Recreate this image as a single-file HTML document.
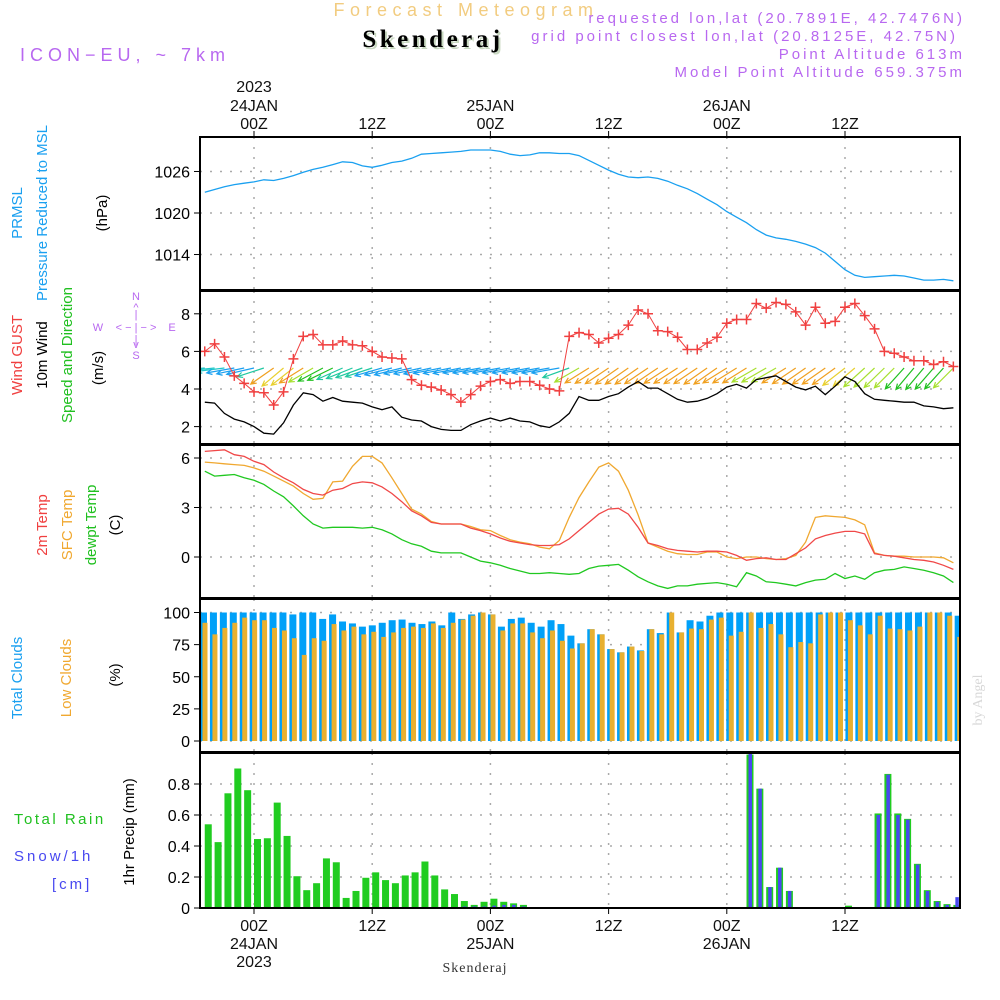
<!DOCTYPE html>
<html><head><meta charset="utf-8"><style>
html,body{margin:0;padding:0;background:#fff;}
svg{display:block;font-family:"Liberation Sans",sans-serif;}
</style></head><body>
<svg id="chart" width="1000" height="1000" viewBox="0 0 1000 1000" xmlns="http://www.w3.org/2000/svg">
<g>
<text x="466" y="16" font-size="18" letter-spacing="5.5" fill="#f2cc80" text-anchor="middle">Forecast Meteogram</text>
<text x="435" y="49" font-size="25" letter-spacing="3.5" font-weight="bold" font-family="Liberation Serif,serif" fill="#c8d8c0" text-anchor="middle">Skenderaj</text>
<text x="433" y="47" font-size="25" letter-spacing="3.5" font-weight="bold" font-family="Liberation Serif,serif" fill="#000" text-anchor="middle">Skenderaj</text>
<text x="20" y="61" font-size="18" letter-spacing="5" fill="#b868f0">ICON−EU, ~ 7km</text>
<g font-size="15" letter-spacing="3" fill="#b868f0" text-anchor="end">
<text x="965" y="23">requested lon,lat (20.7891E, 42.7476N)</text>
<text x="958" y="41">grid point closest lon,lat (20.8125E, 42.75N)</text>
<text x="965" y="59">Point Altitude 613m</text>
<text x="965" y="77">Model Point Altitude 659.375m</text>
</g>
</g>
<g id="labels" font-size="15">
<g>
<text transform="translate(22,213) rotate(-90)" fill="#1aa0f0" text-anchor="middle">PRMSL</text>
<text transform="translate(47,213) rotate(-90)" fill="#1aa0f0" text-anchor="middle">Pressure Reduced to MSL</text>
<text transform="translate(107,213) rotate(-90)" fill="#000" text-anchor="middle">(hPa)</text>
</g>
<g>
<text transform="translate(22,355) rotate(-90)" fill="#f04040" text-anchor="middle">Wind GUST</text>
<text transform="translate(47,355) rotate(-90)" fill="#000" text-anchor="middle">10m Wind</text>
<text transform="translate(72,355) rotate(-90)" fill="#20c020" text-anchor="middle">Speed and Direction</text>
<text transform="translate(103,368) rotate(-90)" fill="#000" text-anchor="middle">(m/s)</text>
<g fill="#b868f0" font-size="11" text-anchor="middle">
<text x="136" y="300">N</text><text x="136" y="311">^</text><text x="136" y="318">|</text>
<text x="98" y="331">W</text><text x="136" y="331">&lt; − | − &gt;</text><text x="172" y="331">E</text>
<text x="136" y="343">|</text><text x="136" y="348">v</text><text x="136" y="359">S</text>
</g>
</g>
<g>
<text transform="translate(47,525) rotate(-90)" fill="#f04040" text-anchor="middle">2m Temp</text>
<text transform="translate(72,525) rotate(-90)" fill="#f0a830" text-anchor="middle">SFC Temp</text>
<text transform="translate(96,525) rotate(-90)" fill="#20c020" text-anchor="middle">dewpt Temp</text>
<text transform="translate(120,525) rotate(-90)" fill="#000" text-anchor="middle">(C)</text>
</g>
<g>
<text transform="translate(22,678) rotate(-90)" fill="#1aa0f0" text-anchor="middle">Total Clouds</text>
<text transform="translate(71,678) rotate(-90)" fill="#f0a830" text-anchor="middle">Low Clouds</text>
<text transform="translate(120,675) rotate(-90)" fill="#000" text-anchor="middle">(%)</text>
</g>
<g>
<text x="14" y="824" fill="#20c020" letter-spacing="2.5">Total  Rain</text>
<text x="14" y="861" fill="#4848f0" letter-spacing="3">Snow/1h</text>
<text x="52" y="889" fill="#4848f0" letter-spacing="3">[cm]</text>
<text transform="translate(134,832) rotate(-90)" fill="#000" text-anchor="middle">1hr Precip (mm)</text>
</g>
<text transform="translate(982,700) rotate(-90)" fill="#d8d8d8" font-family="Liberation Serif,serif" font-size="14" text-anchor="middle">by Angel</text>
<text x="475" y="972" font-family="Liberation Serif,serif" font-size="14" letter-spacing="1" fill="#333" text-anchor="middle">Skenderaj</text>
</g>
<g id="plots"></g>
</svg>
<script>
const hours = [];
for (let h = -5; h <= 71; h++) hours.push(h);
const timeTicks = [0, 12, 24, 36, 48, 60];
const timeTickLabels = ["00Z","12Z","00Z","12Z","00Z","12Z"];
const dateTicks = [0, 24, 48];
const dateLabels = ["24JAN","25JAN","26JAN"];
const yearLabel = "2023";

const pressure = [1023.0,1023.4,1023.8,1024.1,1024.3,1024.5,1024.8,1024.7,1025.0,1025.4,1025.9,1026.3,1026.6,1027.0,1027.4,1027.3,1026.8,1026.6,1026.9,1027.3,1027.5,1027.9,1028.5,1028.6,1028.7,1028.8,1028.9,1029.1,1029.1,1029.1,1028.9,1028.5,1028.3,1028.4,1028.7,1028.7,1028.6,1028.6,1028.3,1027.6,1026.9,1026.2,1025.6,1025.2,1025.1,1025.2,1025.0,1024.6,1024.0,1023.5,1022.8,1022.0,1021.2,1020.2,1019.4,1018.6,1017.6,1016.8,1016.4,1016.2,1015.9,1015.5,1015.0,1014.2,1013.0,1011.8,1011.0,1010.7,1010.8,1010.9,1011.0,1010.9,1010.6,1010.3,1010.3,1010.4,1010.2];
const pressureTicks = [1014, 1020, 1026];

const gust = [6.0,6.4,5.7,4.7,4.3,3.85,3.8,3.15,3.85,5.6,6.8,6.9,6.35,6.35,6.55,6.35,6.3,6.0,5.7,5.65,5.6,4.5,4.2,4.1,3.95,3.7,3.3,3.7,4.15,4.4,4.5,4.3,4.4,4.4,4.2,4.0,3.9,6.8,7.0,6.9,6.45,6.7,6.9,7.4,8.2,8.0,7.1,7.05,6.75,6.1,6.1,6.45,6.75,7.5,7.7,7.7,8.55,8.3,8.6,8.5,8.1,7.4,8.35,7.5,7.6,8.35,8.55,7.9,7.2,6.0,5.9,5.7,5.5,5.5,5.3,5.45,5.2];
const wind = [3.3,3.25,2.7,2.4,2.25,2.0,1.65,1.6,2.2,3.15,3.8,3.7,3.35,3.55,3.35,3.3,3.25,3.05,2.9,3.05,2.5,2.35,2.3,2.0,1.85,1.8,1.8,2.1,2.3,2.45,2.3,2.45,2.3,2.25,2.05,1.95,2.25,2.7,3.6,3.4,3.4,3.6,3.75,4.1,4.4,4.05,4.05,3.75,3.45,3.3,3.35,3.5,3.75,4.1,4.25,4.05,4.5,4.6,4.7,4.4,4.1,3.95,4.15,3.7,4.15,4.65,4.4,3.75,3.45,3.4,3.35,3.3,3.3,3.1,3.05,2.95,3.0];
const windDir = [85,84,83,80,78,77,72,55,50,52,58,60,62,64,66,68,70,72,74,76,76,78,78,78,79,79,79,80,80,80,80,80,80,80,80,80,80,70,60,58,57,56,55,55,55,56,56,57,57,56,56,55,55,58,58,58,60,60,60,58,56,55,55,55,54,52,50,48,47,46,45,42,40,40,41,42,45];
const windTicks = [2, 4, 6, 8];

const temp2m = [6.4,6.45,6.5,6.2,6.1,5.8,5.6,5.15,4.8,4.5,4.1,3.85,3.75,4.05,4.15,4.45,4.55,4.5,4.25,3.85,3.35,2.8,2.5,2.1,2.0,2.0,2.0,1.75,1.6,1.4,1.15,0.95,0.85,0.75,0.7,0.7,0.75,1.1,1.6,2.1,2.6,2.9,2.95,2.6,1.8,0.85,0.7,0.5,0.4,0.35,0.3,0.35,0.35,0.3,0.1,-0.2,-0.1,-0.05,-0.15,-0.15,0.2,0.55,1.1,1.3,1.45,1.55,1.55,1.4,0.2,0.1,0.05,-0.05,-0.15,-0.2,-0.3,-0.5,-0.75];
const tempSfc = [5.75,5.7,5.65,5.6,5.55,5.4,5.2,4.9,4.6,4.3,3.85,3.5,3.55,4.55,4.6,5.5,6.1,6.1,5.7,4.8,3.85,2.9,2.6,2.15,2.0,2.0,2.0,1.85,1.65,1.6,1.3,1.05,0.9,0.8,0.6,0.5,1.0,2.4,3.6,4.55,5.45,5.7,5.2,4.05,2.55,0.85,0.6,0.35,0.2,0.15,0.15,0.3,0.3,0.0,-0.1,0.0,0.0,-0.1,-0.15,-0.1,0.1,0.9,2.4,2.5,2.45,2.4,2.25,1.95,0.25,0.1,0.05,0.05,0.0,0.0,0.0,-0.05,-0.35];
const dewpt = [5.2,4.9,4.95,5.0,4.8,4.65,4.4,4.0,3.65,3.1,2.5,2.0,1.75,1.8,1.8,1.8,1.75,1.8,1.65,1.4,1.05,0.8,0.65,0.35,0.25,0.25,0.25,0.0,-0.25,-0.35,-0.5,-0.7,-0.85,-1.0,-1.0,-0.95,-1.0,-1.05,-1.0,-0.7,-0.55,-0.5,-0.45,-0.8,-1.2,-1.5,-1.75,-1.9,-1.75,-1.75,-1.65,-1.6,-1.55,-1.65,-1.8,-0.95,-1.15,-1.5,-1.55,-1.65,-1.75,-1.55,-1.4,-1.35,-1.0,-1.3,-1.15,-1.35,-0.95,-0.8,-0.75,-0.6,-0.7,-0.8,-0.95,-1.15,-1.55];
const tempTicks = [0, 3, 6];

const totalClouds = [100,100,100,100,100,100,100,100,100,98.5,100,100,95,98.5,93,91.5,89,90,92,94,94.5,92,91,93,90,100,95,98.5,100,98.5,89,95,96,92,89,94,91,82,76,87,83,71.5,69,73.5,70.5,87,84,100,84.5,94,93,97.5,100,100,100,100,100,100,100,100,100,100,100,100,100,100,100,100,100,100,100,100,100,100,100,100,97.5];
const lowClouds = [92,83,88,92,96,94,94,88,86,80,67,80,78,91,86,89,83,85,81,84.5,88,89,88,91.5,88,92,94.5,97.5,100,98.5,86,91.5,91.5,84.5,80,86,78,72,76,87,83,71.5,69,73.5,70,87,83,100,84.5,87.5,87,94.5,96,82,85,100,88,91,83,73,77,76,98.5,100,100,94,90,83,97.5,87.5,87,86,89,100,100,97.5,81];
const cloudTicks = [0, 25, 50, 75, 100];

const rain = [0.54,0.425,0.74,0.9,0.76,0.445,0.45,0.68,0.465,0.205,0.115,0.16,0.32,0.295,0.065,0.11,0.195,0.23,0.18,0.16,0.21,0.23,0.30,0.21,0.12,0.09,0.045,0.02,0.04,0.06,0.04,0.03,0.02,0,0,0,0,0,0,0,0,0,0,0,0,0,0,0,0,0,0,0,0.005,0,0,0.99,0.77,0.135,0.26,0.11,0,0,0,0,0,0.015,0,0,0.61,0.865,0.61,0.575,0.285,0.115,0.045,0.025,0.02];
const snow = [0,0,0,0,0,0,0,0,0,0,0,0,0,0,0,0,0,0,0,0,0,0,0,0,0,0,0.01,0.01,0.01,0.015,0.02,0.02,0.01,0,0,0,0,0,0,0,0,0,0,0,0,0,0,0,0,0,0,0,0.005,0,0,1.0,0.77,0.135,0.26,0.11,0,0,0,0,0,0.005,0,0,0.6,0.86,0.6,0.57,0.28,0.11,0.04,0.02,0.07];
const precipTicks = [0, 0.2, 0.4, 0.6, 0.8];
const precipTickLabels = ["0","0.2","0.4","0.6","0.8"];

const X0 = 200, X1 = 960;
const xScale = h => 254 + 9.85 * h;
const xCloud = h => 200 + (h + 5) * 9.93;
const panels = [
  {name:"pressure-panel", y0:137, y1:290},
  {name:"wind-panel", y0:291, y1:444},
  {name:"temp-panel", y0:445, y1:598},
  {name:"cloud-panel", y0:599, y1:752},
  {name:"precip-panel", y0:753, y1:908}
];
const yPress = v => 213 - (v - 1020) * 6.92;
const yWind = v => 389 - (v - 4) * 18.8;
const yTemp = v => 557 - v * 16.5;
const yCloud = v => 741 - v * 1.285;
const yPrecip = v => 908 - v * 155;

const NS = "http://www.w3.org/2000/svg";
const root = document.getElementById("plots");
function mk(tag, attrs, parent) {
  const e = document.createElementNS(NS, tag);
  for (const k in attrs) e.setAttribute(k, attrs[k]);
  (parent || root).appendChild(e);
  return e;
}
function pathOf(vals, ys) {
  return vals.map((v, i) => (i ? "L" : "M") + xScale(hours[i]).toFixed(1) + "," + ys(v).toFixed(1)).join(" ");
}

panels.forEach((p, pi) => {
  const g = mk("g", {});
  
  
  mk("rect", {x: X0, y: p.y0, width: X1 - X0, height: p.y1 - p.y0, fill: "#fff"}, g);
  timeTicks.forEach(t => {
    const l = mk("line", {x1: xScale(t), x2: xScale(t), y1: p.y0, y2: p.y1, stroke: "#aaa", "stroke-width": 1.5, "stroke-dasharray": "2,8"}, g);
    
    
  });
  p.g = g;
});
function hgrid(pi, ticks, ys, labels) {
  const p = panels[pi];
  ticks.forEach((t, i) => {
    const y = ys(t);
    const l = mk("line", {x1: X0, x2: X1, y1: y, y2: y, stroke: "#aaa", "stroke-width": 1.5, "stroke-dasharray": "2,8"}, p.g);
    
    
    mk("line", {x1: X0 - 6, x2: X0, y1: y, y2: y, stroke: "#000", "stroke-width": 1}, p.g);
    const tx = mk("text", {x: X0 - 10, y: y + 6, "font-size": 16, "text-anchor": "end", fill: "#000"}, p.g);
    tx.textContent = labels ? labels[i] : String(t);
    
    
  });
}
hgrid(0, pressureTicks, yPress);
hgrid(1, windTicks, yWind);
hgrid(2, tempTicks, yTemp);
hgrid(3, cloudTicks, yCloud);
hgrid(4, precipTicks, yPrecip, precipTickLabels);

const defs = mk("defs", {});
panels.forEach((p, i) => {
  const cp = mk("clipPath", {id: "clip" + i}, defs);
  mk("rect", {x: X0, y: p.y0, width: X1 - X0, height: p.y1 - p.y0}, cp);
});

const pl = mk("path", {d: pathOf(pressure, yPress), fill: "none", stroke: "#1aa0f0", "stroke-width": 1.3, "clip-path": "url(#clip0)"}, panels[0].g);



const arrowColorFor = d => d >= 82 ? "#20c8c8" : d >= 74 ? "#1aa0f0" : d >= 66 ? "#20c8a0" : d >= 62 ? "#20c020" : d >= 59 ? "#a8e030" : d >= 54 ? "#f0a020" : d >= 49 ? "#e8d030" : d >= 44 ? "#a8e030" : "#20c020";
const ag = mk("g", {"clip-path": "url(#clip1)"}, panels[1].g);


windDir.forEach((d, i) => {
  const x = xScale(hours[i]), y = 368, L = 28;
  const r = d * Math.PI / 180;
  const dx = -Math.sin(r) * L, dy = Math.cos(r) * L;
  const hx = x + dx, hy = y + dy;
  const ang = Math.atan2(-dy, -dx);
  const hl = 6;
  const c = arrowColorFor(d);
  const a = mk("path", {d: `M${x},${y} L${hx},${hy} M${hx + hl * Math.cos(ang + 0.45)},${hy + hl * Math.sin(ang + 0.45)} L${hx},${hy} L${hx + hl * Math.cos(ang - 0.45)},${hy + hl * Math.sin(ang - 0.45)}`, fill: "none", stroke: c, "stroke-width": 1.2}, ag);
  
  
});
const wl = mk("path", {d: pathOf(wind, yWind), fill: "none", stroke: "#000", "stroke-width": 1.3, "clip-path": "url(#clip1)"}, panels[1].g);


const gl = mk("path", {d: pathOf(gust, yWind), fill: "none", stroke: "#f04040", "stroke-width": 1, "clip-path": "url(#clip1)"}, panels[1].g);


gust.forEach((v, i) => {
  const x = xScale(hours[i]), y = yWind(v);
  const m = mk("path", {d: `M${x - 5},${y} L${x + 5},${y} M${x},${y - 5} L${x},${y + 5}`, stroke: "#f04040", "stroke-width": 1.5}, panels[1].g);
  
  
});

[[dewpt, "#20c820", "dewpoint-line"], [tempSfc, "#f0a830", "sfc-temp-line"], [temp2m, "#f04848", "temp-2m-line"]].forEach(([arr, col, nm]) => {
  const l = mk("path", {d: pathOf(arr, yTemp), fill: "none", stroke: col, "stroke-width": 1.3, "clip-path": "url(#clip2)"}, panels[2].g);
  
  
});

const cg = mk("g", {"clip-path": "url(#clip3)"}, panels[3].g);


totalClouds.forEach((v, i) => {
  const x = xCloud(hours[i]);
  const b = mk("rect", {x: x, y: yCloud(v), width: 7, height: yCloud(0) - yCloud(v), fill: "#00a0f8"}, cg);
  
  
  const lv = lowClouds[i];
  const o = mk("rect", {x: x + 2.5, y: yCloud(lv), width: 5, height: yCloud(0) - yCloud(lv), fill: "#e8b030"}, cg);
  
  
});

const rg = mk("g", {"clip-path": "url(#clip4)"}, panels[4].g);


rain.forEach((v, i) => {
  const x = xScale(hours[i]);
  if (v > 0) {
    const b = mk("rect", {x: x, y: yPrecip(v), width: 7, height: yPrecip(0) - yPrecip(v), fill: "#20cc20"}, rg);
    
    
  }
  const s = snow[i];
  if (s > 0) {
    const sb = mk("rect", {x: x + 2, y: yPrecip(s), width: 3.5, height: yPrecip(0) - yPrecip(s), fill: "#4848f0"}, rg);
    
    
  }
});

panels.forEach(p => {
  const f = mk("rect", {x: X0, y: p.y0, width: X1 - X0, height: p.y1 - p.y0, fill: "none", stroke: "#000", "stroke-width": 2}, p.g);
  
  
});

const axg = mk("g", {"font-size": 16, "text-anchor": "middle", fill: "#111"});


timeTicks.forEach((t, i) => {
  const x = xScale(t);
  mk("line", {x1: x, x2: x, y1: 131, y2: 137, stroke: "#000"}, axg);
  mk("line", {x1: x, x2: x, y1: 908, y2: 914, stroke: "#000"}, axg);
  const a = mk("text", {x: x, y: 129}, axg); a.textContent = timeTickLabels[i];
  
  
  const b = mk("text", {x: x, y: 931}, axg); b.textContent = timeTickLabels[i];
  
  
});
dateTicks.forEach((t, i) => {
  const x = xScale(t);
  const a = mk("text", {x: x, y: 111}, axg); a.textContent = dateLabels[i];
  
  
  const b = mk("text", {x: x, y: 949}, axg); b.textContent = dateLabels[i];
  
  
});
const y1 = mk("text", {x: xScale(0), y: 92}, axg); y1.textContent = yearLabel;


const y2 = mk("text", {x: xScale(0), y: 967}, axg); y2.textContent = yearLabel;


</script>
</body></html>
